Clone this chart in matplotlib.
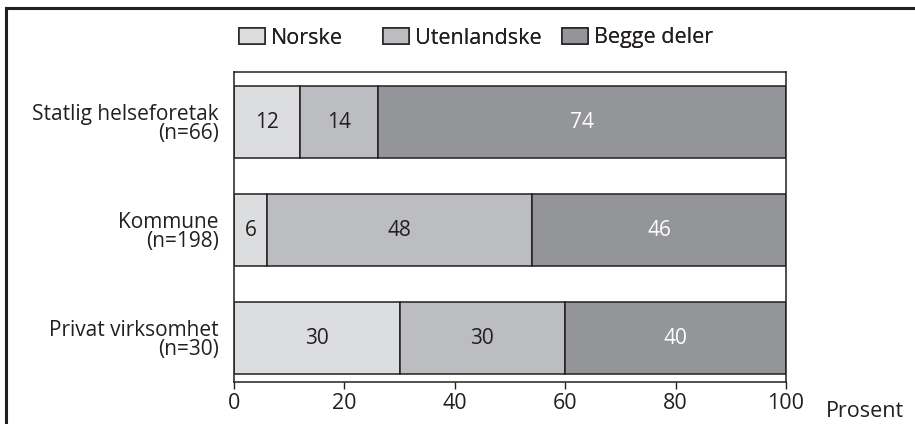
import matplotlib
matplotlib.use("Agg")
import matplotlib.pyplot as plt
from matplotlib.lines import Line2D

plt.rcParams['font.family'] = ['Open Sans', 'DejaVu Sans']

categories = ["Statlig helseforetak\n(n=66)", "Kommune\n(n=198)", "Privat virksomhet\n(n=30)"]
series_names = ["Norske", "Utenlandske", "Begge deler"]
norske = [12, 6, 30]
utenlandske = [14, 48, 30]
begge = [74, 46, 40]
xticks = [0, 20, 40, 60, 80, 100]

colors = ["#dcdddf", "#bcbdc0", "#939598"]
text_colors = ["#231f20", "#231f20", "#ffffff"]
dark = "#231f20"
fs = 15

fig = plt.figure(figsize=(9.15, 4.24), dpi=100)
ax = fig.add_axes([234 / 915, 42 / 424, 552 / 915, 310 / 424])

ypos = list(range(len(categories)))
left = [0] * len(categories)
handles = []
for vals, name, col, tcol in zip([norske, utenlandske, begge], series_names, colors, text_colors):
    bars = ax.barh(ypos, vals, left=left, height=0.667, color=col,
                   edgecolor=dark, linewidth=1.1, label=name)
    handles.append(bars)
    for b, v in zip(bars, vals):
        ax.text(b.get_x() + b.get_width() / 2, b.get_y() + b.get_height() / 2, str(v),
                ha="center", va="center", fontsize=fs, color=tcol)
    left = [l + v for l, v in zip(left, vals)]

ax.set_xlim(0, 100)
ax.set_ylim(len(categories) - 1 + 0.405, -0.463)
ax.set_xticks(xticks)
ax.set_xticklabels([str(t) for t in xticks], fontsize=fs + 0.5, color=dark)
ax.set_yticks(ypos)
ax.set_yticklabels(categories, fontsize=fs, color=dark, linespacing=0.9, ha="right")
ax.tick_params(axis="y", length=0, pad=11)
ax.tick_params(axis="x", length=5, width=1, color=dark, direction="out", pad=3)
for s in ax.spines.values():
    s.set_color(dark)
    s.set_linewidth(1.1)

ax.text(1.072, -0.061, "Prosent", transform=ax.transAxes, fontsize=fs + 0.5, color=dark,
        ha="left", va="top")

# legend: en boks per serie, plassert som i originalen
leg_x = [239, 383, 562]
for h, x in zip(handles, leg_x):
    leg = fig.legend(handles=[h], loc="center left", bbox_to_anchor=(x / 915, 1 - 38 / 424),
                     frameon=False, fontsize=fs + 0.5, handlelength=1.2, handleheight=0.8,
                     handletextpad=0.28, borderpad=0, borderaxespad=0, labelcolor=dark)
    fig.add_artist(leg)

# ytre ramme
fig.add_artist(Line2D([6 / 915, 6 / 915], [-0.1, 1 - 8 / 424], color=dark, linewidth=2.2,
                      transform=fig.transFigure))
fig.add_artist(Line2D([6 / 915, 1.1], [1 - 8 / 424, 1 - 8 / 424], color=dark, linewidth=2.2,
                      transform=fig.transFigure))

fig.savefig("out.png", dpi=100)
